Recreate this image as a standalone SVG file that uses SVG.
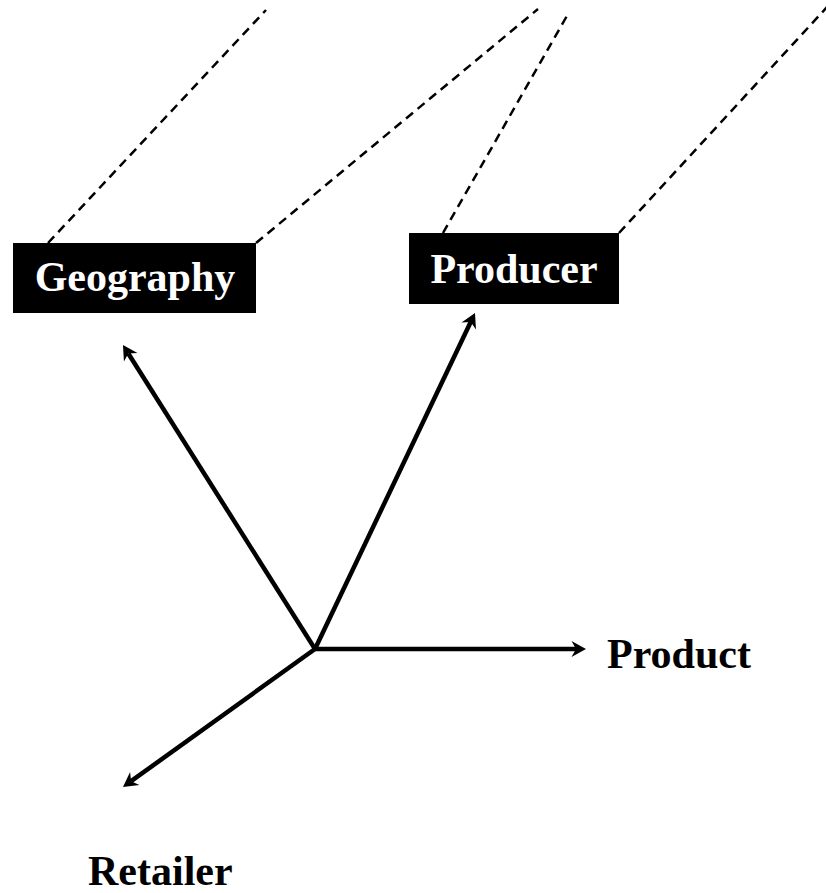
<svg xmlns="http://www.w3.org/2000/svg" width="826" height="893" viewBox="0 0 826 893">
<style>
.dash{stroke:#000;stroke-width:2.5;stroke-dasharray:9,6;fill:none}
.axis{stroke:#000;stroke-width:4.5;fill:none;marker-end:url(#ah)}
.box{fill:#000}
.lbl{font-family:"Liberation Serif","Times New Roman",serif;font-weight:bold;font-size:42px}
.wl{fill:#fff;text-anchor:middle}
.bl{fill:#000}
</style>
<defs>
<marker id="ah" viewBox="-5 -9 16 18" markerWidth="16" markerHeight="18" refX="0" refY="0" orient="auto" markerUnits="userSpaceOnUse">
<path d="M10,0 L-4.5,-8 L0,0 L-4.5,8 Z" fill="#000"/>
</marker>
</defs>
<g id="connectors">
<line class="dash" x1="48" y1="243" x2="266" y2="10"/>
<line class="dash" x1="256" y1="243" x2="538" y2="9"/>
<line class="dash" x1="443" y1="233" x2="568" y2="14"/>
<line class="dash" x1="619" y1="233" x2="828" y2="6"/>
<line class="axis" x1="315" y1="649" x2="128.3" y2="353.5"/>
<line class="axis" x1="315" y1="649" x2="470.7" y2="322"/>
<line class="axis" x1="315" y1="649" x2="576" y2="649"/>
<line class="axis" x1="315" y1="649" x2="131.1" y2="781.2"/>
</g>
<g id="geography">
<rect class="box" x="13" y="243" width="243" height="70"/>
<text class="lbl wl" x="135" y="291">Geography</text>
</g>
<g id="producer">
<rect class="box" x="409" y="233" width="210" height="71"/>
<text class="lbl wl" x="514" y="283">Producer</text>
</g>
<g id="product">
<text class="lbl bl" x="607" y="668">Product</text>
</g>
<g id="retailer">
<text class="lbl bl" x="88" y="885">Retailer</text>
</g>
</svg>
